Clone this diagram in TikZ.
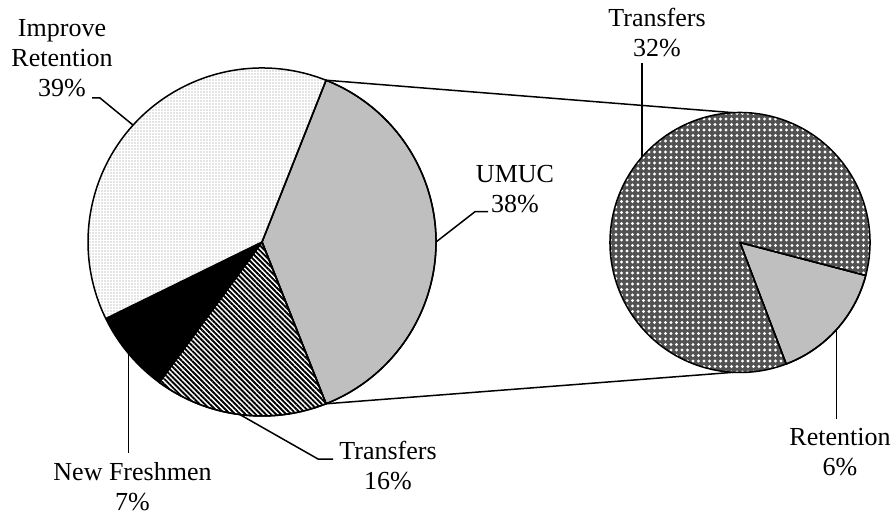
\documentclass[tikz,border=0pt]{standalone}
\usepackage{fontspec}
\setmainfont{Liberation Serif}
\usetikzlibrary{patterns.meta,calc}
\begin{document}
\begin{tikzpicture}[x=1pt,y=1pt,
  slice/.style={draw=black,line width=1.5pt,line join=round},
  leader/.style={draw=black,line width=1.5pt},
  lbl/.style={font=\fontsize{26}{30}\selectfont,align=center,anchor=base,inner sep=0pt},
  dotsfill/.style={preaction={fill=white},pattern={Dots[distance=3pt,radius=0.6pt]},pattern color=black!45},
  stripefill/.style={preaction={fill=white},pattern={Lines[angle=-45,distance=3.6pt,line width=1.9pt]},pattern color=black},
  crossfill/.style={preaction={fill=black!68},pattern={Dots[distance=5.5pt,radius=1.7pt]},pattern color=white},
  solidgray/.style={fill=black!25},
]
\useasboundingbox (0,0) rectangle (894,515);
\coordinate (C1) at (262,273);
\coordinate (C2) at (740,272.5);
% main pie
\path[slice,solidgray] (C1) -- ($(C1)+(-68.4:174)$) arc[start angle=-68.4,end angle=68.4,radius=174] -- cycle;
\path[slice,stripefill] (C1) -- ($(C1)+(-126.2:174)$) arc[start angle=-126.2,end angle=-68.4,radius=174] -- cycle;
\path[slice,fill=black] (C1) -- ($(C1)+(-153.9:174)$) arc[start angle=-153.9,end angle=-126.2,radius=174] -- cycle;
\path[slice,dotsfill] (C1) -- ($(C1)+(68.4:174)$) arc[start angle=68.4,end angle=206.1,radius=174] -- cycle;
\path[slice] (C1) -- ($(C1)+(-68.4:174)$) arc[start angle=-68.4,end angle=68.4,radius=174] -- cycle;
\path[slice] (C1) -- ($(C1)+(-126.2:174)$) arc[start angle=-126.2,end angle=-68.4,radius=174] -- cycle;
% secondary pie
\path[slice,solidgray] (C2) -- ($(C2)+(-69.2:130)$) arc[start angle=-69.2,end angle=-14.7,radius=130] -- cycle;
\path[slice,crossfill] (C2) -- ($(C2)+(-14.7:130)$) arc[start angle=-14.7,end angle=290.8,radius=130] -- cycle;
\path[slice] (C2) -- ($(C2)+(-69.2:130)$) arc[start angle=-69.2,end angle=-14.7,radius=130] -- cycle;
% connecting lines
\coordinate (m1) at ($(C1)+(68.4:174)$);
\coordinate (m2) at ($(C1)+(-68.4:174)$);
\coordinate (s1) at ($(C2)+(93:130)$);
\coordinate (s2) at ($(C2)+(-93:130)$);
\draw[leader] (m1) -- (s1);
\draw[leader] (m2) -- (s2);
% labels
\node[lbl] (lImp) at (62,418) {Improve\\Retention\\39\%};
\node[lbl] (lUMUC) at (515,302) {UMUC\\38\%};
\node[lbl] (lTr1) at (388,26) {Transfers\\16\%};
\node[lbl] (lNF) at (132.5,5) {New Freshmen\\7\%};
\node[lbl] (lTr2) at (657,458) {Transfers\\32\%};
\node[lbl] (lRet) at (840,40) {Retention\\6\%};
% leaders
\coordinate (a1) at ($(C1)+(137.8:174)$);
\coordinate (k1) at (100,417);
\coordinate (e1) at (92,417);
\draw[leader] (a1) -- (k1) -- (e1);
\coordinate (a2) at ($(C1)+(0:174)$);
\coordinate (k2) at (475,303.3);
\coordinate (e2) at (488,303.3);
\draw[leader] (a2) -- (k2) -- (e2);
\coordinate (a3) at ($(C1)+(-97.3:174)$);
\coordinate (k3) at (318,56);
\coordinate (e3) at (333,56);
\draw[leader] (a3) -- (k3) -- (e3);
\coordinate (a4) at ($(C1)+(-140:174)$);
\coordinate (e4) at ($(a4|-0,62.3)$);
\draw[leader] (a4) -- (e4);
\coordinate (a5) at ($(C2)+(139:130)$);
\coordinate (e5) at ($(a5|-0,452.3)$);
\draw[leader] (a5) -- (e5);
\coordinate (a6) at ($(C2)+(-42:130)$);
\coordinate (e6) at ($(a6|-0,96)$);
\draw[leader] (a6) -- (e6);
\end{tikzpicture}
\end{document}
